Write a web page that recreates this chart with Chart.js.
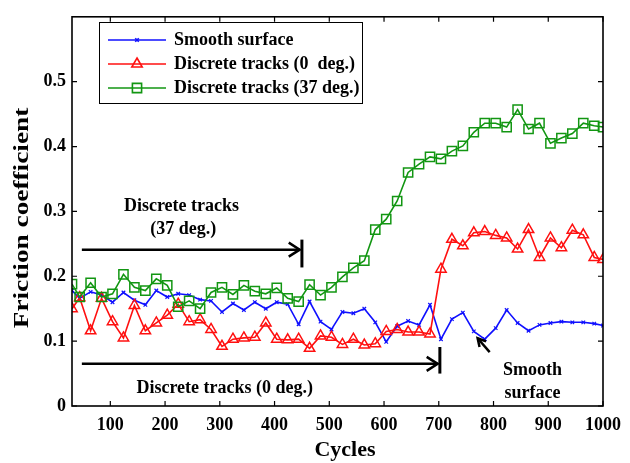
<!DOCTYPE html>
<html>
<head>
<meta charset="utf-8">
<script src="https://cdn.jsdelivr.net/npm/chart.js@4.4.0/dist/chart.umd.min.js"></script>
<style>
  html,body{margin:0;padding:0;background:#fff}
  #wrap{width:630px;height:463px}
</style>
</head>
<body>
<div id="wrap"><canvas id="chart" width="630" height="463"></canvas></div>
<script>
// dati (coefficiente d'attrito vs cicli)
const cycles = [30,44,64,84,104,124,144,164,184,204,224,244,264,284,304,324,344,364,384,404,
  424,444,464,484,504,524,544,564,584,604,624,644,664,684,704,724,744,764,784,804,
  824,844,864,884,904,924,944,964,984,1000];

const smooth = [0.178,0.166,0.176,0.171,0.160,0.175,0.163,0.156,0.178,0.168,0.173,0.171,0.164,0.162,0.145,0.158,0.148,0.160,0.150,0.160,
  0.157,0.126,0.161,0.130,0.118,0.145,0.143,0.150,0.129,0.099,0.123,0.131,0.125,0.156,0.103,0.134,0.144,0.115,0.103,0.120,
  0.148,0.128,0.116,0.125,0.128,0.130,0.129,0.129,0.127,0.124];

const disc0 = [0.150,0.167,0.116,0.166,0.130,0.105,0.155,0.116,0.128,0.140,0.157,0.130,0.133,0.118,0.092,0.103,0.105,0.106,0.128,0.103,
  0.102,0.103,0.089,0.108,0.106,0.095,0.103,0.094,0.096,0.115,0.118,0.114,0.114,0.111,0.211,0.257,0.247,0.267,0.269,0.263,
  0.259,0.242,0.272,0.229,0.259,0.244,0.271,0.264,0.229,0.226];

const disc37 = [0.188,0.168,0.190,0.168,0.173,0.203,0.183,0.178,0.196,0.186,0.153,0.162,0.150,0.175,0.183,0.172,0.186,0.177,0.173,0.182,
  0.166,0.161,0.187,0.171,0.183,0.199,0.213,0.224,0.272,0.288,0.316,0.360,0.373,0.384,0.381,0.393,0.401,0.422,0.436,0.436,
  0.430,0.457,0.427,0.436,0.405,0.413,0.420,0.436,0.432,0.430];

const xTicks = [100,200,300,400,500,600,700,800,900,1000];
const yTicks = [0,0.1,0.2,0.3,0.4,0.5];

const LABELS = ['Smooth surface','Discrete tracks (0  deg.)','Discrete tracks (37 deg.)'];
const COLORS = {smooth:'#1010ff', d0:'#ff1010', d37:'#129612'};
const FONT = 'Liberation Serif, Times New Roman, serif';

function pts(ys){ return ys.map((y,i)=>({x:cycles[i], y})); }

// legenda, bordo, tacche interne e annotazioni
const decor = {
  id:'decor',
  afterDraw(chart){
    const {ctx, chartArea:a, scales:{x, y}} = chart;
    const X = v => x.getPixelForValue(v), Y = v => y.getPixelForValue(v);
    ctx.save();
    ctx.strokeStyle = '#000'; ctx.fillStyle = '#000';

    // tacche verso l'interno
    ctx.lineWidth = 1.2;
    ctx.beginPath();
    xTicks.forEach(v=>{ const p = X(v); ctx.moveTo(p,a.bottom); ctx.lineTo(p,a.bottom-5); ctx.moveTo(p,a.top); ctx.lineTo(p,a.top+5); });
    yTicks.forEach(v=>{ const p = Y(v); ctx.moveTo(a.left,p); ctx.lineTo(a.left+5,p); ctx.moveTo(a.right,p); ctx.lineTo(a.right-5,p); });
    ctx.stroke();
    ctx.lineWidth = 1.6;
    ctx.strokeRect(a.left, a.top, a.right-a.left, a.bottom-a.top);

    // legenda
    ctx.fillStyle = '#fff';
    ctx.fillRect(99,22,263,81);
    ctx.lineWidth = 1; ctx.strokeStyle = '#000';
    ctx.strokeRect(99.5,22.5,263,81);
    chart.data.datasets.forEach((ds,i)=>{
      const ly = 40 + i*24;
      ctx.strokeStyle = ds.borderColor; ctx.lineWidth = ds.borderWidth;
      ctx.beginPath(); ctx.moveTo(108,ly); ctx.lineTo(166,ly); ctx.stroke();
      ctx.fillStyle = 'rgba(0,0,0,0)';
      Chart.helpers.drawPoint(ctx, {pointStyle:ds.pointStyle, radius:ds.pointRadius, rotation:0, borderWidth:ds.pointBorderWidth}, 137, ly);
      ctx.fillStyle = '#000';
      ctx.font = 'bold 18px ' + FONT; ctx.textAlign = 'left'; ctx.textBaseline = 'middle';
      ctx.fillText(ds.label, 174, ly);
    });

    // frecce
    ctx.strokeStyle = '#000'; ctx.fillStyle = '#000';
    function arrow(x0, x1, yv, xb, yb0, yb1){
      const yy = Y(yv), tip = X(x1);
      ctx.lineWidth = 2.5;
      ctx.beginPath(); ctx.moveTo(X(x0), yy); ctx.lineTo(tip, yy); ctx.stroke();
      ctx.beginPath(); ctx.moveTo(tip-11, yy-7); ctx.lineTo(tip, yy); ctx.lineTo(tip-11, yy+7); ctx.stroke();
      ctx.lineWidth = 3;
      ctx.beginPath(); ctx.moveTo(X(xb), Y(yb0)); ctx.lineTo(X(xb), Y(yb1)); ctx.stroke();
    }
    arrow(48, 446, 0.241, 450, 0.2565, 0.2136);
    arrow(48, 698, 0.065, 702, 0.091, 0.050);

    // freccia corta verso la curva liscia
    const tx = X(771), ty = Y(0.1045), sx = X(793), sy = Y(0.083);
    ctx.lineWidth = 2.5;
    ctx.beginPath(); ctx.moveTo(sx, sy); ctx.lineTo(tx, ty); ctx.stroke();
    const ang = Math.atan2(ty-sy, tx-sx);
    ctx.beginPath();
    ctx.moveTo(tx - 9*Math.cos(ang-0.5), ty - 9*Math.sin(ang-0.5));
    ctx.lineTo(tx, ty);
    ctx.lineTo(tx - 9*Math.cos(ang+0.5), ty - 9*Math.sin(ang+0.5));
    ctx.stroke();

    // testi
    ctx.font = 'bold 18px ' + FONT; ctx.textAlign = 'center'; ctx.textBaseline = 'middle';
    ctx.fillText('Discrete tracks', X(230), Y(0.3076));
    ctx.fillText('(37 deg.)', X(233), Y(0.2727));
    ctx.fillText('Discrete tracks (0 deg.)', X(309), Y(0.0273));
    ctx.fillText('Smooth', X(871), Y(0.0545));
    ctx.fillText('surface', X(871), Y(0.0197));

    // titoli assi
    ctx.font = 'bold 22px ' + FONT;
    ctx.fillText('Cycles', 345, 450);
    ctx.save();
    ctx.translate(23, 218); ctx.rotate(-Math.PI/2); ctx.scale(1.3, 1);
    ctx.font = 'bold 21px ' + FONT;
    ctx.fillText('Friction coefficient', 0, 0);
    ctx.restore();
    ctx.restore();
  }
};

function makeDs(label, ys, color, style, r, order){
  return {
    label, data: pts(ys), borderColor: color, backgroundColor: 'rgba(0,0,0,0)',
    borderWidth: 1.6, pointStyle: style, pointRadius: r, pointBorderWidth: style==='crossRot'?1.2:1.5,
    pointBackgroundColor: 'rgba(0,0,0,0)', pointBorderColor: color, tension: 0, order
  };
}

new Chart(document.getElementById('chart'), {
  type: 'line',
  data: {
    datasets: [
      makeDs(LABELS[0], smooth, COLORS.smooth, 'crossRot', 2.5, 3),
      makeDs(LABELS[1], disc0, COLORS.d0, 'triangle', 6, 2),
      makeDs(LABELS[2], disc37, COLORS.d37, 'rect', 6.5, 1)
    ]
  },
  options: {
    responsive: false,
    animation: false,
    layout: {padding: {left: 0, right: 15, top: 11, bottom: 0}},
    plugins: {legend: {display: false}, tooltip: {enabled: false}},
    scales: {
      x: {
        type: 'linear', min: 30, max: 1000,
        afterBuildTicks: s => { s.ticks = xTicks.map(v => ({value: v})); },
        afterFit: s => { s.height = 57; },
        grid: {display: false, drawTicks: false}, border: {display: false},
        ticks: {color: '#000', font: {family: FONT, size: 18, weight: 'bold'}, padding: 9, maxRotation: 0, autoSkip: false,
          callback: v => String(v)}
      },
      y: {
        min: 0, max: 0.6,
        afterBuildTicks: s => { s.ticks = yTicks.map(v => ({value: v})); },
        afterFit: s => { s.width = 72; },
        grid: {display: false, drawTicks: false}, border: {display: false},
        ticks: {color: '#000', font: {family: FONT, size: 18, weight: 'bold'}, padding: 6,
          callback: v => String(v)}
      }
    }
  },
  plugins: [decor]
});
</script>
</body>
</html>
